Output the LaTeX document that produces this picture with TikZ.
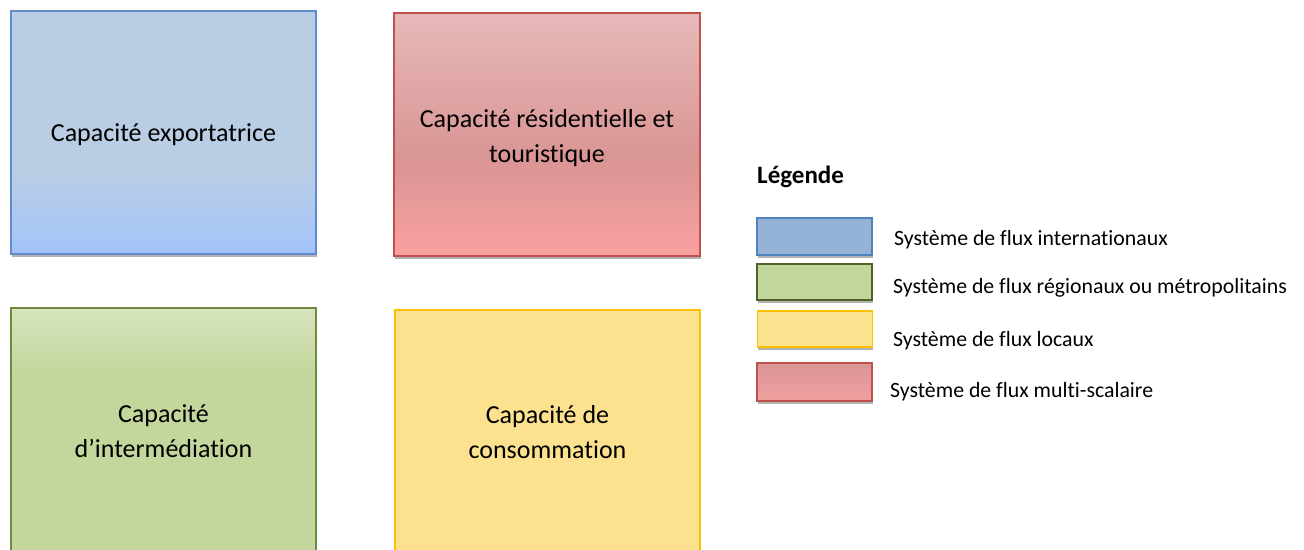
\documentclass[tikz,border=0pt]{standalone}
\usepackage{fontspec}
\setmainfont{Carlito}[RawFeature=-liga]
\usetikzlibrary{shadows}
\definecolor{btop}{RGB}{185,205,229}
\definecolor{bbot}{RGB}{163,195,250}
\definecolor{bline}{RGB}{95,140,205}
\definecolor{rtop}{RGB}{230,185,184}
\definecolor{rmid}{RGB}{217,149,148}
\definecolor{rbot}{RGB}{250,160,160}
\definecolor{rline}{RGB}{192,80,77}
\definecolor{gtop}{RGB}{215,228,189}
\definecolor{gbot}{RGB}{195,214,155}
\definecolor{gline}{RGB}{113,137,63}
\definecolor{gline2}{RGB}{79,98,40}
\definecolor{yfill}{RGB}{252,225,142}
\definecolor{yline}{RGB}{255,192,0}
\definecolor{lblue}{RGB}{149,179,215}
\definecolor{lbline}{RGB}{79,129,189}
\definecolor{lrtop}{RGB}{217,150,148}
\definecolor{lrbot}{RGB}{242,160,160}
\pgfdeclareverticalshading{blueshade}{100bp}{color(0bp)=(bbot); color(25bp)=(bbot); color(42bp)=(btop); color(100bp)=(btop)}
\pgfdeclareverticalshading{redshade}{100bp}{color(0bp)=(rbot); color(25bp)=(rbot); color(45bp)=(rmid); color(75bp)=(rtop); color(100bp)=(rtop)}
\pgfdeclareverticalshading{greenshade}{100bp}{color(0bp)=(gbot); color(25bp)=(gbot); color(61bp)=(gbot); color(75bp)=(gtop); color(100bp)=(gtop)}
\pgfdeclareverticalshading{lredshade}{100bp}{color(0bp)=(lrbot); color(25bp)=(lrbot); color(75bp)=(lrtop); color(100bp)=(lrtop)}
\tikzset{
  bigbox/.style={rectangle, line width=1.3pt, inner sep=0pt,
    drop shadow={shadow xshift=0.6pt, shadow yshift=-2.5pt, opacity=0.3, fill=black}},
  boxlabel/.style={align=center, inner sep=0pt, font=\fontsize{26}{35}\selectfont},
  legbox/.style={rectangle, line width=1.6pt, inner sep=0pt,
    minimum width=115pt,
    drop shadow={shadow xshift=0.6pt, shadow yshift=-2.5pt, opacity=0.3, fill=black}},
  legtext/.style={anchor=base west, inner sep=0pt, font=\fontsize{21.8}{26}\selectfont},
}
\begin{document}
\begin{tikzpicture}[x=1pt,y=-1pt]
\useasboundingbox (0,0) rectangle (1304,549);
\fill[white] (0,0) rectangle (1304,549);
\begin{scope}
\clip (0,0) rectangle (1304,549);
\node[bigbox, draw=bline, shading=blueshade, minimum width=305pt, minimum height=243pt]
  (exp) at (163.5,132.5) {};
\node[bigbox, draw=rline, shading=redshade, minimum width=306pt, minimum height=243pt]
  (res) at (547,134.5) {};
\node[bigbox, draw=gline, shading=greenshade, minimum width=305pt, minimum height=244pt]
  (int) at (163.5,430) {};
\node[bigbox, draw=yline, fill=yfill, minimum width=305pt, minimum height=244pt]
  (con) at (547.5,432) {};
\end{scope}
\node[boxlabel] (expt) at ([yshift=-2pt]exp.center) {Capacité exportatrice};
\node[boxlabel] (rest) at ([yshift=-3.5pt]res.center) {Capacité résidentielle et\\touristique};
\node[boxlabel] (intt) at ([yshift=-1pt]int.center) {Capacité\\d’intermédiation};
\node[boxlabel] (cont) at (con.center) {Capacité de\\consommation};
\node[anchor=base west, inner sep=0pt, font=\fontsize{25}{30}\selectfont\bfseries] (leg) at (757,183) {Légende};
\node[legbox, draw=lbline, fill=lblue, minimum height=37pt] (l1) at (814.5,236.5) {};
\node[legbox, draw=gline2, fill=gbot, minimum height=36pt] (l2) at (814.5,282) {};
\node[legbox, draw=yline, fill=yfill, minimum height=36pt] (l3) at (815,329) {};
\node[legbox, draw=rline, shading=lredshade, minimum height=38pt] (l4) at (814.5,382) {};
\node[legtext] (t1) at (894,245) {Système de flux internationaux};
\node[legtext] (t2) at (893,293) {Système de flux régionaux ou métropolitains};
\node[legtext] (t3) at (893,346) {Système de flux locaux};
\node[legtext] (t4) at (890,397) {Système de flux multi-scalaire};
\end{tikzpicture}
\end{document}
